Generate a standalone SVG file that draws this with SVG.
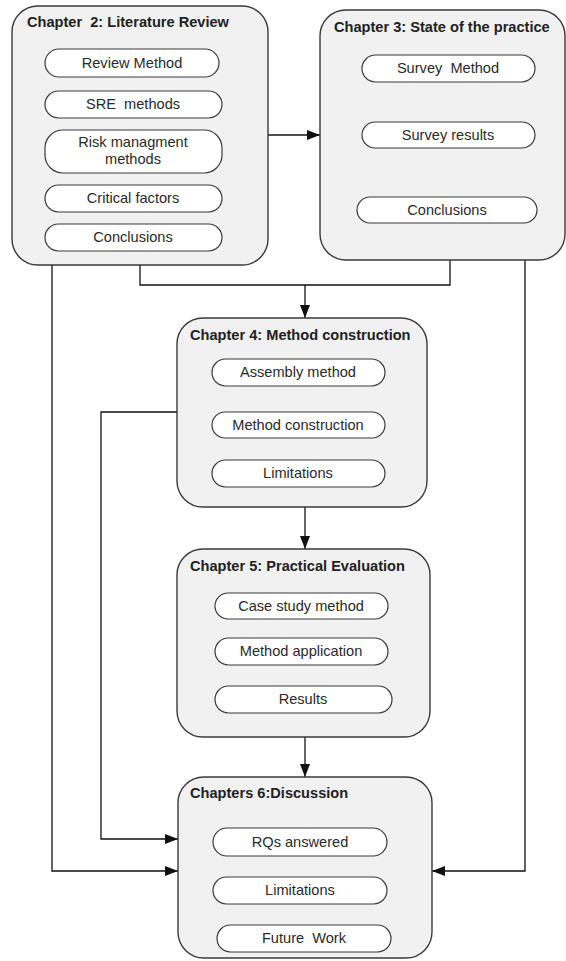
<svg xmlns="http://www.w3.org/2000/svg" width="566" height="961" viewBox="0 0 566 961">
  <style>
    .box { fill: #f1f1f1; stroke: #3a3a3a; stroke-width: 1.4; }
    .pill { fill: #ffffff; stroke: #3a3a3a; stroke-width: 1.2; }
    text { white-space: pre; }
    .title { font-family: "Liberation Sans", Arial, sans-serif; font-weight: bold; font-size: 14.6px; fill: #222; }
    .label { font-family: "Liberation Sans", Arial, sans-serif; font-size: 14.6px; fill: #2a2a2a; text-anchor: middle; }
    .wire { fill: none; stroke: #111; stroke-width: 1.3; }
  </style>
  <defs>
    <marker id="arrow" viewBox="0 0 13 10" refX="13" refY="5" markerWidth="13" markerHeight="10" markerUnits="userSpaceOnUse" orient="auto">
      <path d="M0,0 L13,5 L0,10 Z" fill="#111"/>
    </marker>
  </defs>

  <rect width="566" height="961" fill="#ffffff"/>

  <!-- connectors -->
  <g id="connectors">
    <path class="wire" d="M268,135 H320" marker-end="url(#arrow)"/>
    <path class="wire" d="M140,265 V285 H450 V260"/>
    <path class="wire" d="M305,285 V318" marker-end="url(#arrow)"/>
    <path class="wire" d="M52,265 V871 H178" marker-end="url(#arrow)"/>
    <path class="wire" d="M525,260 V871 H432" marker-end="url(#arrow)"/>
    <path class="wire" d="M177,412 H101 V839 H178" marker-end="url(#arrow)"/>
    <path class="wire" d="M305,507 V549" marker-end="url(#arrow)"/>
    <path class="wire" d="M305,737 V777" marker-end="url(#arrow)"/>
  </g>

  <!-- Chapter 2 -->
  <g id="ch2">
    <rect class="box" x="12" y="6" width="256" height="259" rx="26"/>
    <text class="title" x="27" y="27" xml:space="preserve">Chapter  2: Literature Review</text>
    <rect class="pill" x="45" y="49" width="174" height="28" rx="14"/>
    <text class="label" x="132" y="68">Review Method</text>
    <rect class="pill" x="45" y="91" width="177" height="27" rx="13.5"/>
    <text class="label" x="133" y="109" xml:space="preserve">SRE  methods</text>
    <rect class="pill" x="45" y="130" width="177" height="43" rx="18"/>
    <text class="label" x="133" y="147">Risk managment</text>
    <text class="label" x="133" y="164">methods</text>
    <rect class="pill" x="45" y="185" width="177" height="27" rx="13.5"/>
    <text class="label" x="133" y="203">Critical factors</text>
    <rect class="pill" x="45" y="224" width="177" height="27" rx="13.5"/>
    <text class="label" x="133" y="242">Conclusions</text>
  </g>

  <!-- Chapter 3 -->
  <g id="ch3">
    <rect class="box" x="320" y="10" width="245" height="250" rx="26"/>
    <text class="title" x="334" y="32">Chapter 3: State of the practice</text>
    <rect class="pill" x="362" y="55" width="173" height="27" rx="13.5"/>
    <text class="label" x="448" y="73" xml:space="preserve">Survey  Method</text>
    <rect class="pill" x="362" y="122" width="173" height="26" rx="13"/>
    <text class="label" x="448" y="140">Survey results</text>
    <rect class="pill" x="357" y="197" width="180" height="26" rx="13"/>
    <text class="label" x="447" y="215">Conclusions</text>
  </g>

  <!-- Chapter 4 -->
  <g id="ch4">
    <rect class="box" x="177" y="318" width="250" height="189" rx="26"/>
    <text class="title" x="190" y="340">Chapter 4: Method construction</text>
    <rect class="pill" x="212" y="359" width="173" height="27" rx="13.5"/>
    <text class="label" x="298" y="377">Assembly method</text>
    <rect class="pill" x="212" y="412" width="173" height="26" rx="13"/>
    <text class="label" x="298" y="430">Method construction</text>
    <rect class="pill" x="212" y="460" width="173" height="27" rx="13.5"/>
    <text class="label" x="298" y="478">Limitations</text>
  </g>

  <!-- Chapter 5 -->
  <g id="ch5">
    <rect class="box" x="177" y="549" width="253" height="188" rx="26"/>
    <text class="title" x="190" y="571">Chapter 5: Practical Evaluation</text>
    <rect class="pill" x="215" y="593" width="173" height="26" rx="13"/>
    <text class="label" x="301" y="611">Case study method</text>
    <rect class="pill" x="215" y="638" width="173" height="27" rx="13.5"/>
    <text class="label" x="301" y="656">Method application</text>
    <rect class="pill" x="215" y="686" width="177" height="27" rx="13.5"/>
    <text class="label" x="303" y="704">Results</text>
  </g>

  <!-- Chapter 6 -->
  <g id="ch6">
    <rect class="box" x="178" y="777" width="254" height="181" rx="26"/>
    <text class="title" x="190" y="798">Chapters 6:Discussion</text>
    <rect class="pill" x="213" y="828" width="174" height="28" rx="14"/>
    <text class="label" x="300" y="847">RQs answered</text>
    <rect class="pill" x="213" y="877" width="174" height="27" rx="13.5"/>
    <text class="label" x="300" y="895">Limitations</text>
    <rect class="pill" x="217" y="925" width="174" height="27" rx="13.5"/>
    <text class="label" x="304" y="943" xml:space="preserve">Future  Work</text>
  </g>
</svg>
